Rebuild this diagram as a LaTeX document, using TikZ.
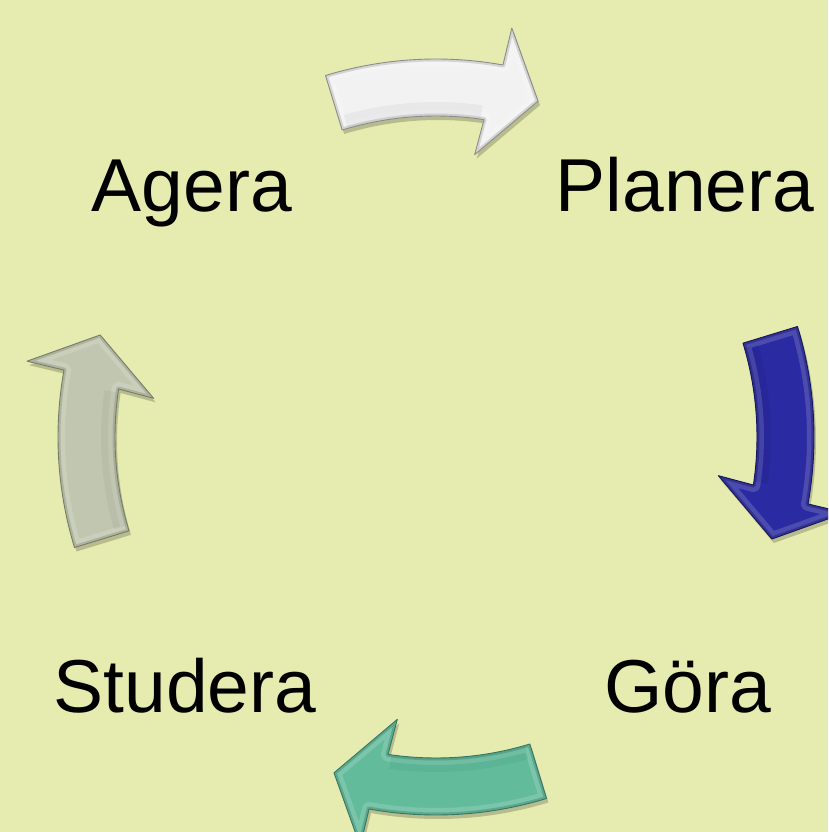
\documentclass[tikz,border=0pt]{standalone}
\usepackage{fontspec}
\setmainfont{Liberation Sans}
\definecolor{bgcol}{RGB}{230,236,176}
\definecolor{wBase}{RGB}{242,242,242}\definecolor{wDark}{RGB}{165,165,165}\definecolor{wLine}{RGB}{140,140,140}
\definecolor{bBase}{RGB}{42,42,162}\definecolor{bDark}{RGB}{18,18,100}\definecolor{bLine}{RGB}{22,22,96}
\definecolor{tBase}{RGB}{98,188,156}\definecolor{tDark}{RGB}{48,124,100}\definecolor{tLine}{RGB}{52,120,98}
\definecolor{gBase}{RGB}{192,198,176}\definecolor{gDark}{RGB}{132,138,118}\definecolor{gLine}{RGB}{118,124,104}
\tikzset{
  lbl/.style={anchor=base, inner sep=0pt, font=\fontsize{75}{90}\selectfont, text=black},
  arrshadow/.style={fill=black, opacity=0.2},
  arredge/.style={line width=#1, line join=round}
}
\newcommand\arrpath[1]{({107+#1}:378) arc[start angle={107+#1}, end angle={79.8+#1}, radius=378pt]
    -- ({79.5+#1}:416) -- ({73.1+#1}:351) -- ({82.2+#1}:285) -- ({81.4+#1}:321)
    arc[start angle={81.4+#1}, end angle={107+#1}, radius=321pt] -- cycle}
% #1 angle offset, #2 base, #3 dark, #4 line
\newcommand\cycarrow[4]{%
  \fill[arrshadow] [shift={(2,-4)}] \arrpath{#1};
  \fill[#2] \arrpath{#1};
  \begin{scope}
    \clip \arrpath{#1};
    \draw[arredge=14pt, white, opacity=0.16] \arrpath{#1};
    \draw[arredge=5pt, #3, opacity=0.4] \arrpath{#1};
    \draw[line width=14pt, #3, opacity=0.12] ({106+#1}:328) arc[start angle={106+#1}, end angle={82+#1}, radius=328pt];
  \end{scope}
  \draw[arredge=0.9pt, #4] \arrpath{#1};
}
\begin{document}
\begin{tikzpicture}[x=1pt,y=1pt]
\useasboundingbox (0,0) rectangle (828,-832);
\fill[bgcol] (0,0) rectangle (828,-832);
\clip (0,0) rectangle (828,-832);
\begin{scope}[shift={(436,-437)}]
  \cycarrow{0}{wBase}{wDark}{wLine}
  \cycarrow{-90}{bBase}{bDark}{bLine}
  \cycarrow{-180}{tBase}{tDark}{tLine}
  \cycarrow{90}{gBase}{gDark}{gLine}
\end{scope}
\node[lbl] (agera) at (192,-211) {Agera};
\node[lbl] (planera) at (685,-211) {Planera};
\node[lbl] (studera) at (185,-712) {Studera};
\node[lbl] (gora) at (688,-712) {Göra};
\end{tikzpicture}
\end{document}
